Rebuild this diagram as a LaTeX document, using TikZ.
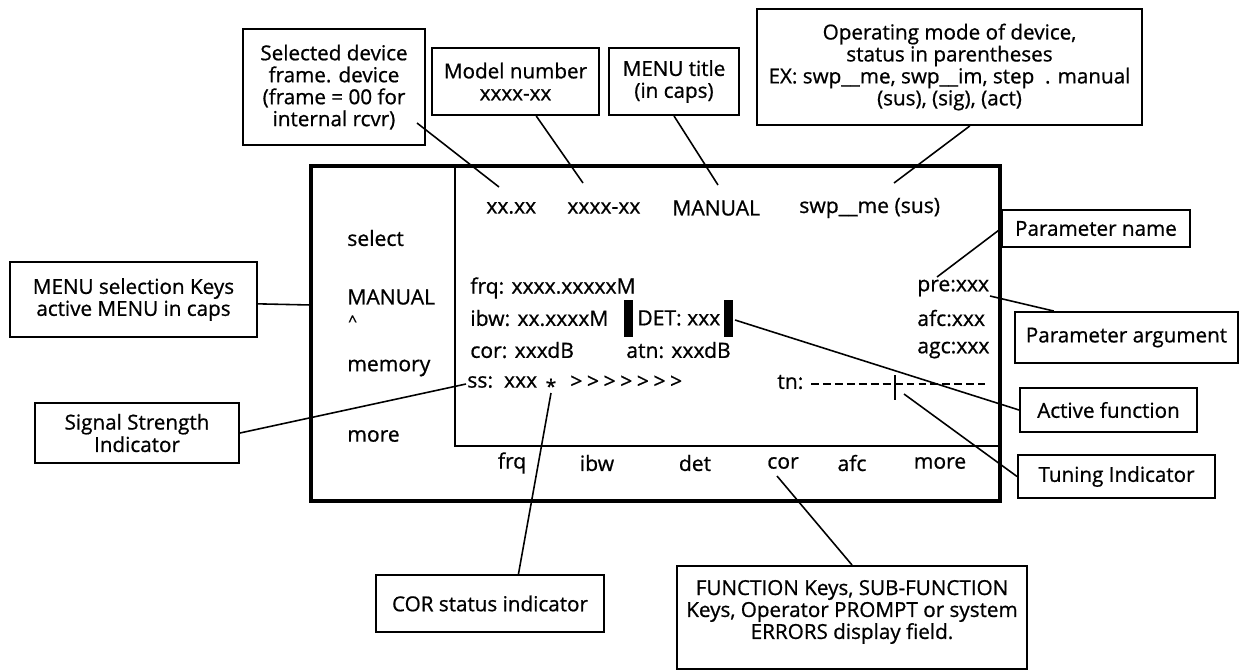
\documentclass[tikz,border=0pt]{standalone}
\usepackage{fontspec}
\setmainfont{Open Sans}[FakeBold=0.8]
\usetikzlibrary{positioning}

\begin{document}
\begin{tikzpicture}[x=0.02cm, y=-0.02cm,
  callout/.style={draw, line width=1.1pt, align=center, inner sep=2pt,
                  font=\fontsize{11.75}{12.5}\selectfont},
  scr/.style={anchor=west, inner sep=0pt, font=\fontsize{12}{13}\selectfont},
  fkey/.style={inner sep=0pt, font=\fontsize{12}{13}\selectfont},
  lead/.style={line width=0.9pt},
  frame/.style={line width=2.3pt},
  panel/.style={line width=1.6pt}
]
  \useasboundingbox (0,0) rectangle (1240,670);

  % display unit
  \draw[frame] (311,166) rectangle (1000,501);
  \draw[panel] (455,166) -- (455,446) -- (1000,446);

  % menu selection keys
  \node[scr] (mselect) at (347,238) {select};
  \node[scr] (mmanual) at (347,297) {MANUAL};
  \node[scr, font=\fontsize{9}{9}\selectfont] (mcaret) at (348,321) {\textasciicircum};
  \node[scr] (mmemory) at (347,368) {memory};
  \node[scr] (mmore) at (347,436) {more};

  % header line
  \node[scr] (hdev) at (486,208) {xx.xx};
  \node[scr] (hmodel) at (567,208) {xxxx-xx};
  \node[scr] (htitle) at (672,208) {MANUAL};
  \node[scr] (hmode) at (799,208) {swp\_\_me (sus)};

  % parameter lines
  \node[scr] (sfrq) at (470,288) {frq: xxxx.xxxxxM};
  \node[scr] (sibw) at (470,318) {ibw: xx.xxxxM};
  \node[scr] (scor) at (470,350) {cor: xxxdB};
  \node[scr] (sss) at (467,382) {ss:\ \ xxx};
  \node[inner sep=0pt, font=\fontsize{11}{13}\selectfont] (sstar) at (551,386) {*};
  \node[scr] (sbar) at (570,382)
    {>\hspace{2.6pt}>\hspace{2.6pt}>\hspace{2.6pt}>\hspace{2.6pt}>\hspace{2.6pt}>\hspace{2.6pt}>};
  \node[scr] (sdet) at (637,318) {DET: xxx};
  \fill (624,300) rectangle (633,337);
  \fill (724,300) rectangle (733,337);
  \node[scr] (satn) at (626,350) {atn: xxxdB};
  \node[scr] (spre) at (917,288) {pre:xxx};
  \node[scr] (safc) at (917,318) {afc:xxx};
  \node[scr] (sagc) at (917,350) {agc:xxx};
  \node[scr] (stn) at (777,382) {tn:};
  \draw[line width=1.2pt, dash pattern=on 4.5pt off 2.3pt] (811,384) -- (985,384);
  \draw[line width=1.4pt] (895,375) -- (895,400);

  % function keys
  \foreach \lbl/\x in {frq/512, ibw/597, det/695, cor/783, afc/852, more/940}
    \node[fkey] (k\lbl) at (\x,463) {\lbl};

  % callouts
  \node[callout, minimum width=3.64cm, minimum height=2.32cm] (dev) at (334,87)
    {Selected device\\ frame. device\\ (frame = 00 for\\ internal rcvr)};
  \node[callout, minimum width=3.34cm, minimum height=1.34cm] (mdl) at (515.5,81.5)
    {Model number\\ xxxx-xx};
  \node[callout, minimum width=2.60cm, minimum height=1.34cm] (ttl) at (674,81.5)
    {MENU title\\ (in caps)};
  \node[callout, minimum width=7.70cm, minimum height=2.32cm] (mode) at (949.5,67)
    {Operating mode of device,\\ status in parentheses\\
     EX: swp\_\_me, swp\_\_im, step\ \ . manual\\ (sus), (sig), (act)};
  \node[callout, minimum width=4.94cm, minimum height=1.50cm] (keys) at (133.5,299.5)
    {MENU selection Keys\\ active MENU in caps};
  \node[callout, minimum width=4.08cm, minimum height=1.20cm,
        font=\fontsize{11.75}{10.5}\selectfont] (sig) at (137,433)
    {Signal Strength\\ Indicator};
  \node[callout, minimum width=3.76cm, minimum height=0.74cm] (pnm) at (1096,228.5)
    {Parameter name};
  \node[callout, minimum width=4.46cm, minimum height=1.02cm] (parg) at (1126.5,337.5)
    {Parameter argument};
  \node[callout, minimum width=3.54cm, minimum height=0.88cm] (act) at (1108.5,410)
    {Active function};
  \node[callout, minimum width=3.94cm, minimum height=0.86cm] (tun) at (1116.5,476.5)
    {Tuning Indicator};
  \node[callout, minimum width=4.56cm, minimum height=1.14cm] (corst) at (490,603.5)
    {COR status indicator};
  \node[callout, anchor=north, inner sep=0pt] (fnk) at (852,565)
    {\begin{minipage}[t][2.06cm][t]{7cm}\centering\vspace{8pt}
     FUNCTION Keys, SUB-FUNCTION\\ Keys, Operator PROMPT or system\\
     ERRORS display field.\end{minipage}};

  % pointer tips
  \coordinate (devtip) at (417,123);
  \coordinate (pdev) at (499,187);
  \coordinate (pmodel) at (583,183);
  \coordinate (ptitle) at (718,185);
  \coordinate (pmode) at (894,183);
  \coordinate (pkeys) at (311,305);
  \coordinate (pss) at (466,384);
  \coordinate (ppre) at (937,277);
  \coordinate (parg tip) at (990,296);
  \coordinate (pdet) at (735,320);
  \coordinate (ptune) at (904,394);
  \coordinate (pstar) at (551,393);
  \coordinate (pkey) at (777,476);

  % leader lines
  \draw[lead] (devtip) -- (pdev);
  \draw[lead] (mdl.301.5) -- (pmodel);
  \draw[lead] (ttl.south) -- (ptitle);
  \draw[lead] (mode.289.5) -- (pmode);
  \draw[lead] (keys.-2.5) -- (pkeys);
  \draw[lead] (sig.east) -- (pss);
  \draw[lead] (pnm.west) -- (ppre);
  \draw[lead] (parg.160) -- (parg tip);
  \draw[lead] (act.west) -- (pdet);
  \draw[lead] (tun.west) -- (ptune);
  \draw[lead] (corst.46.5) -- (pstar);
  \draw[lead] (fnk.north) -- (pkey);
\end{tikzpicture}
\end{document}
